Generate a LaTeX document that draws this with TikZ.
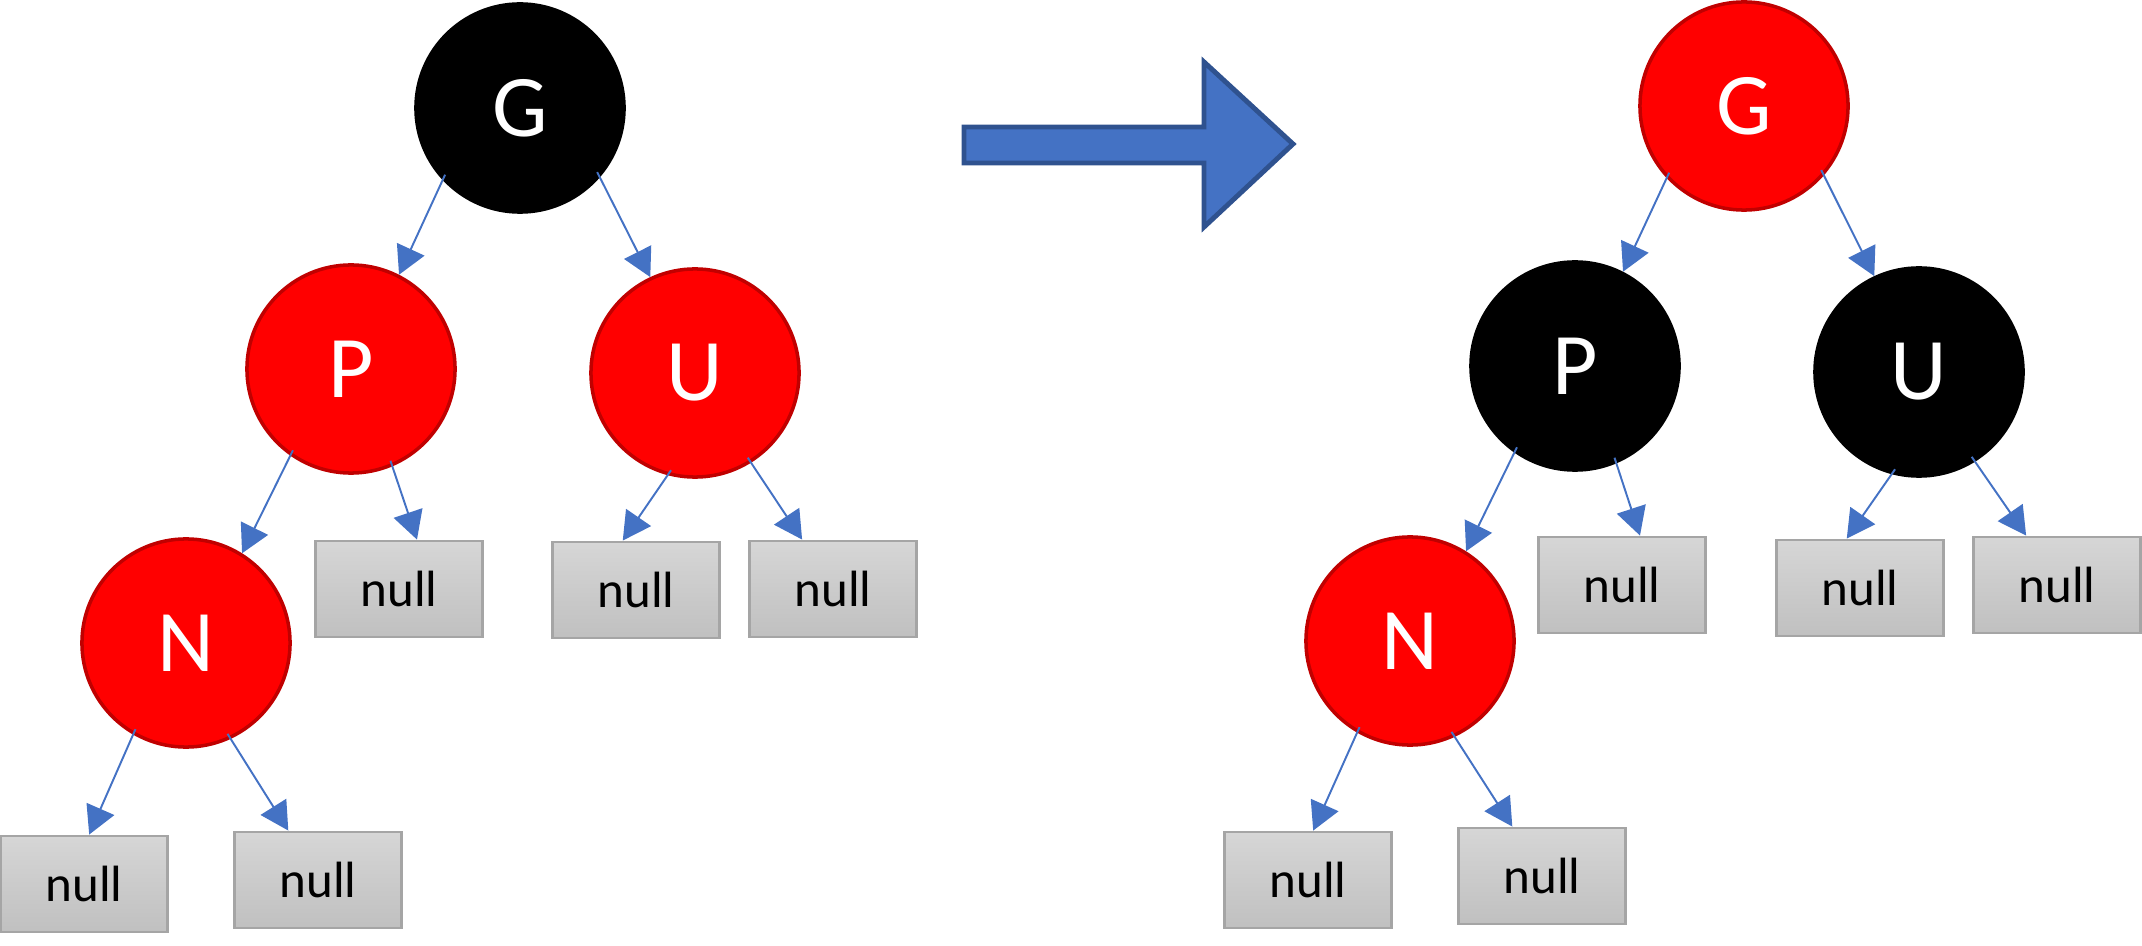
\documentclass[tikz,border=0pt]{standalone}
\usepackage{fontspec}
\setmainfont{Carlito}
\usepackage{xcolor}
\usepackage{tikz}
\usetikzlibrary{arrows.meta}

\definecolor{rbred}{RGB}{255,0,0}
\definecolor{rbredline}{RGB}{192,0,0}
\definecolor{linkblue}{RGB}{68,114,196}
\definecolor{bigarrowline}{RGB}{47,82,143}
\definecolor{nulltop}{RGB}{214,214,214}
\definecolor{nullbottom}{RGB}{192,192,192}
\definecolor{nullline}{RGB}{165,165,165}

\begin{document}
\begin{tikzpicture}[
  x=0.01cm, y=-0.01cm,
  rednode/.style={circle, draw=rbredline, fill=rbred, line width=1pt, minimum size=2.08cm, inner sep=0pt, text=white, font=\fontsize{25}{29}\selectfont},
  blacknode/.style={rednode, draw=black, fill=black},
  nullbox/.style={rectangle, draw=nullline, top color=nulltop, bottom color=nullbottom, line width=0.8pt, minimum width=1.67cm, minimum height=0.96cm, inner sep=0pt, font=\fontsize{14.5}{17}\selectfont},
  treelink/.style={-{Triangle[length=0.28cm, width=0.3cm]}, linkblue, line width=0.55pt, shorten <=-0.06cm},
  bigarrow/.style={draw=bigarrowline, fill=linkblue, line width=1.4pt, line join=miter}
]
\useasboundingbox (0,0) rectangle (2142,946);

% Cây trước khi đổi màu
\node[blacknode] (G1) at (520,108) {G};
\node[rednode] (P1) at (351,369) {P};
\node[rednode] (U1) at (695,373) {U};
\node[rednode] (N1) at (186,643) {N};
\node[nullbox] (P1r) at (399,589) {null};
\node[nullbox] (U1l) at (636,590) {null};
\node[nullbox] (U1r) at (833,589) {null};
\node[nullbox] (N1l) at (84,884) {null};
\node[nullbox] (N1r) at (318,880) {null};

\draw[treelink] (G1.223) -- (P1.63);
\draw[treelink] (G1.319) -- (U1.115);
\draw[treelink] (P1.235) -- (N1.58);
\draw[treelink] (P1.293) -- (P1r.70);
\draw[treelink] (U1.255) -- (U1l.105);
\draw[treelink] (U1.302) -- (U1r.122);
\draw[treelink] (N1.240) -- (N1l.84);
\draw[treelink] (N1.295) -- (N1r.121);

% Mũi tên lớn ở giữa
\draw[bigarrow] (964,127) -- (1204,127) -- (1204,62) -- (1293,144) -- (1204,227) -- (1204,163) -- (964,163) -- cycle;

% Cây sau khi đổi màu
\node[rednode] (G2) at (1744,106) {G};
\node[blacknode] (P2) at (1575,366) {P};
\node[blacknode] (U2) at (1919,372) {U};
\node[rednode] (N2) at (1410,641) {N};
\node[nullbox] (P2r) at (1622,585) {null};
\node[nullbox] (U2l) at (1860,588) {null};
\node[nullbox] (U2r) at (2057,585) {null};
\node[nullbox] (N2l) at (1308,880) {null};
\node[nullbox] (N2r) at (1542,876) {null};

\draw[treelink] (G2.223) -- (P2.63);
\draw[treelink] (G2.319) -- (U2.115);
\draw[treelink] (P2.235) -- (N2.58);
\draw[treelink] (P2.293) -- (P2r.70);
\draw[treelink] (U2.255) -- (U2l.105);
\draw[treelink] (U2.302) -- (U2r.122);
\draw[treelink] (N2.240) -- (N2l.84);
\draw[treelink] (N2.295) -- (N2r.121);

\end{tikzpicture}
\end{document}
